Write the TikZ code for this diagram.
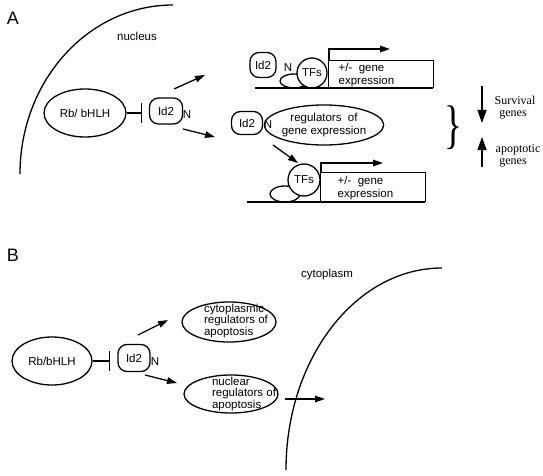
\documentclass[tikz,border=0pt]{standalone}
\usepackage{fontspec}
\setmainfont{Liberation Sans}
\newfontfamily\seriffont{Liberation Serif}
\usetikzlibrary{arrows.meta,shapes.geometric}
\begin{document}
\begin{tikzpicture}[x=1pt,y=-1pt,
  line width=1.3pt,
  every node/.style={inner sep=0pt, font=\fontsize{11.5}{13}\selectfont},
  oval/.style={draw, ellipse, inner sep=0pt},
  idbox/.style={draw, rectangle, rounded corners=9pt},
  arr/.style={-{Triangle[length=10pt,width=6.5pt]}},
  inh/.style={-{Bar[width=20pt]}},
  bigarr/.style={-{Triangle[length=13pt,width=9pt]}},
  sertext/.style={font=\seriffont\fontsize{12}{13}\selectfont},
  lbl/.style={font=\fontsize{18}{18}\selectfont}
]
\useasboundingbox (0,0) rectangle (543,476);

% ---------------- Panel A ----------------
\node[lbl] (labA) at (13,18) {A};
\node (nuc) at (137,36) {nucleus};
\draw (20,174) arc[start angle=180,end angle=270,x radius=153,y radius=169];

\node[oval, minimum width=82pt, minimum height=48pt] (rbA) at (85,113) {Rb/ bHLH};
\coordinate (barA) at (142,113);
\draw[inh] (rbA.east) -- (barA);
\node[idbox, minimum width=33pt, minimum height=26pt] (idA) at (166,111) {Id2};
\node (nA) at (187,115) {N};
\coordinate (a1s) at (174,89);  \coordinate (a1e) at (205,75);
\coordinate (a2s) at (183,129); \coordinate (a2e) at (215,137);
\draw[arr] (a1s) -- (a1e);
\draw[arr] (a2s) -- (a2e);

% top complex
\node[oval, minimum width=28pt, minimum height=14pt] (selT) at (294,81) {};
\node[draw, circle, fill=white, minimum size=30pt] (tfT) at (312,73) {TFs};
\node[idbox, minimum width=26pt, minimum height=25pt] (idT) at (263,65) {Id2};
\node (nT) at (288,68) {N};
\node[draw, minimum width=105pt, minimum height=27pt, anchor=south west] (boxT) at (328,88) {};
\coordinate (gT1) at (255,88); \coordinate (gT2) at (433,88);
\draw (gT1) -- (gT2);
\coordinate (bT) at (390,49);
\draw[arr] ([xshift=1pt]boxT.north west) |- (bT);
\node[anchor=west] (txT1) at (338,69) {+/-\ \ gene};
\node[anchor=west] (txT2) at (338,82) {expression};

% middle
\node[idbox, minimum width=31pt, minimum height=23pt] (idM) at (247,123) {Id2};
\node[oval, minimum width=104pt, minimum height=40pt, align=center] (regM) at (324,125) {regulators\ \ of\\gene expression};
\node (nM) at (268,125) {N};
\coordinate (a3s) at (273,145); \coordinate (a3e) at (298,163);
\draw[arr] (a3s) -- (a3e);

% bottom complex
\node[oval, minimum width=30pt, minimum height=16pt] (selB) at (285,194) {};
\node[draw, circle, fill=white, minimum size=32pt] (tfB) at (304,180) {TFs};
\node[draw, minimum width=105pt, minimum height=29pt, anchor=south west] (boxB) at (320,202) {};
\coordinate (gB1) at (247,202); \coordinate (gB2) at (425,202);
\draw (gB1) -- (gB2);
\coordinate (bB) at (383,163);
\draw[arr] ([xshift=1pt]boxB.north west) |- (bB);
\node[anchor=west] (txB1) at (337,182) {+/-\ \ gene};
\node[anchor=west] (txB2) at (337,195) {expression};

% brace and gene arrows
\node[xscale=0.7, font=\seriffont\fontsize{53}{53}\selectfont] (brace) at (453,128) {\}};
\coordinate (d1) at (482,86);  \coordinate (d2) at (482,123);
\coordinate (u1) at (482,167); \coordinate (u2) at (482,137);
\draw[bigarr] (d1) -- (d2);
\draw[bigarr] (u1) -- (u2);
\node[sertext] (surv) at (515,100) {Survival};
\node[sertext] (sgen) at (513,115) {genes};
\node[sertext] (apop) at (518,150) {apoptotic};
\node[sertext] (agen) at (513,163) {genes};

% ---------------- Panel B ----------------
\node[lbl] (labB) at (13,255) {B};
\node (cyto) at (327,275) {cytoplasm};
\draw (286,470) arc[start angle=180,end angle=270,x radius=156,y radius=202];

\node[oval, minimum width=80pt, minimum height=48pt] (rbB) at (52,361) {Rb/bHLH};
\coordinate (barB) at (110,361);
\draw[inh] (rbB.east) -- (barB);
\node[idbox, minimum width=32pt, minimum height=27pt] (idB) at (134,358) {Id2};
\node (nB) at (155,362) {N};
\coordinate (b1s) at (138,335); \coordinate (b1e) at (168,320);
\coordinate (b2s) at (145,375); \coordinate (b2e) at (177,383);
\draw[arr] (b1s) -- (b1e);
\draw[arr] (b2s) -- (b2e);

\node[oval, minimum width=94pt, minimum height=40pt] (cytreg) at (229,322) {};
\node[align=left, font=\fontsize{11.5}{11.3}\selectfont] (cyttx) at (236,321) {cytoplasmic\\regulators of\\apoptosis};
\node[oval, minimum width=94pt, minimum height=38pt] (nucreg) at (231,394) {};
\node[align=left, font=\fontsize{11.5}{11.3}\selectfont] (nuctx) at (244,394) {nuclear\\regulators of\\apoptosis};
\coordinate (c1s) at (285,399); \coordinate (c1e) at (325,399);
\draw[arr] (c1s) -- (c1e);
\end{tikzpicture}
\end{document}
